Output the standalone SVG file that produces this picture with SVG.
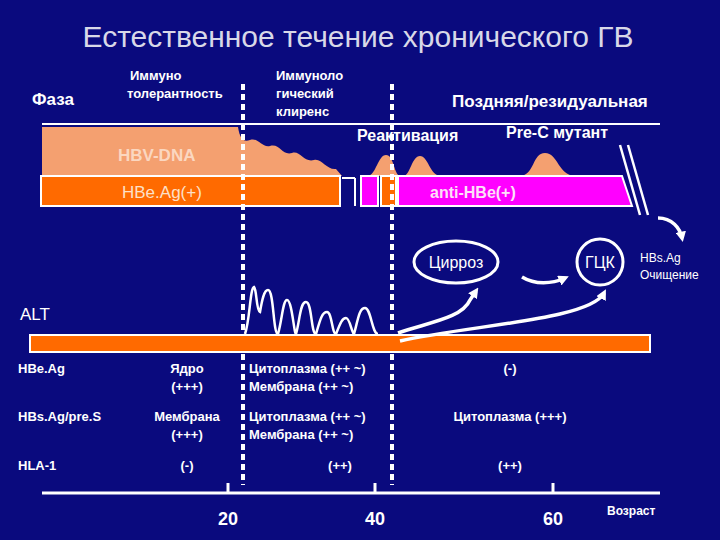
<svg xmlns="http://www.w3.org/2000/svg" width="720" height="540" viewBox="0 0 720 540">
<defs>
<style>
text{font-family:"Liberation Sans",Arial,sans-serif;fill:#fff;font-weight:bold}
.s{font-size:13px}
.m{font-size:16px}
.dash{stroke:#fff;stroke-width:4;stroke-dasharray:6,4}
.arr{fill:none;stroke:#fff;stroke-width:3.5;marker-end:url(#ah)}
</style>
<marker id="ah" viewBox="0 0 10 10" refX="6" refY="5" markerWidth="3" markerHeight="3" orient="auto"><path d="M0,0L10,5L0,10z" fill="#fff"/></marker>
</defs>
<rect width="720" height="540" fill="#0a0a7e"/>
<text x="358" y="47" text-anchor="middle" style="font-size:30px;font-weight:normal;fill:#d8d8e8">Естественное течение хронического ГВ</text>
<g id="phases">
<text x="32" y="105" style="font-size:17px">Фаза</text>
<text x="130" y="80" class="s">Иммуно</text>
<text x="127" y="98" class="s">толерантность</text>
<text x="276" y="80" class="s">Иммуноло</text>
<text x="276" y="98" class="s">гический</text>
<text x="276" y="116" class="s">клиренс</text>
<text x="452" y="107" style="font-size:17px">Поздняя/резидуальная</text>
</g>
<line x1="42" y1="124" x2="660" y2="124" stroke="#fff" stroke-width="2"/>
<g id="hbvdna">
<path d="M42,127 H238 C240,140 244,142 250,140 C258,137 262,148 270,146 C280,143 282,156 292,153 C300,150 304,163 314,160 C322,158 326,170 336,169 L342,176 H42 Z" fill="#f4a070"/>
<path d="M368,176 C376,175 378,155 386,155 C394,155 394,175 400,176 Z" fill="#f4a070"/>
<path d="M404,176 C410,175 412,156 420,156 C428,156 430,175 440,176 Z" fill="#f4a070"/>
<path d="M520,176 C535,175 532,153 545,153 C558,153 558,175 575,176 Z" fill="#f4a070"/>
<text x="118" y="161" style="font-size:17px;fill:#fbd7c0">HBV-DNA</text>
<text x="357" y="141" class="m">Реактивация</text>
<text x="506" y="138" class="m">Pre-C мутант</text>
</g>
<g id="hbeag-bar" stroke="#fff" stroke-width="2">
<rect x="41" y="176" width="299" height="30" fill="#ff6a00"/>
<rect x="361" y="176" width="17" height="30" fill="#ff00ff"/>
<rect x="381" y="176" width="15" height="30" fill="#ff6a00"/>
<path d="M398,176 H622 L632,206 H398 Z" fill="#ff00ff"/>
<line x1="342" y1="178" x2="355" y2="178"/>
<line x1="355" y1="178" x2="355" y2="206"/>
<line x1="620" y1="145" x2="640" y2="215" stroke-width="2.5"/>
<line x1="628" y1="145" x2="648" y2="215" stroke-width="2.5"/>
</g>
<text x="122" y="198" style="font-size:17px;font-weight:normal;fill:#fde0c8">HBe.Ag(+)</text>
<text x="430" y="198" class="m" style="fill:#fde0f8">anti-HBe(+)</text>
<g id="vlines">
<line x1="243" y1="84" x2="243" y2="485" class="dash"/>
<line x1="392" y1="84" x2="392" y2="485" class="dash"/>
</g>
<g id="cirrhosis">
<ellipse cx="456" cy="262" rx="42" ry="21" fill="none" stroke="#fff" stroke-width="3"/>
<text x="456" y="268" text-anchor="middle" class="m" style="font-weight:normal">Цирроз</text>
</g>
<g id="hcc">
<circle cx="600" cy="262" r="23" fill="none" stroke="#fff" stroke-width="3"/>
<text x="600" y="268" text-anchor="middle" class="m" style="font-weight:normal">ГЦК</text>
</g>
<text x="640" y="262" style="font-size:12px;font-weight:normal">HBs.Ag</text>
<text x="640" y="279" style="font-size:12px;font-weight:normal">Очищение</text>
<text x="20" y="320" style="font-size:17px;font-weight:normal">ALT</text>
<g id="alt-bar">
<rect x="30" y="335" width="620" height="17" fill="#ff6a00" stroke="#fff" stroke-width="2"/>
<path d="M245,334 C250,320 250,288 254,287 C257,290 256,310 260,312 C262,300 264,290 268,290 C274,290 273,334 278,334 C282,320 283,300 287,300 C292,300 294,334 296,334 C300,320 300,302 306,302 C312,302 311,334 316,334 C320,320 322,312 327,312 C332,312 332,334 336,334 C340,324 342,318 346,318 C350,318 352,334 354,334 C358,320 359,308 365,308 C371,308 372,334 378,334" fill="none" stroke="#fff" stroke-width="2.5"/>
</g>
<g id="connectors">
<path d="M398,333 C430,322 462,318 470,300 L476,291" class="arr"/>
<path d="M400,341 C470,325 590,320 604,293" class="arr"/>
<path d="M522,277 C535,285 552,284 565,278" class="arr"/>
<path d="M658,218 C672,218 680,228 682,238" class="arr"/>
</g>
<g id="table">
<text x="18" y="373" class="s">HBe.Ag</text>
<text x="187" y="373" text-anchor="middle" class="s">Ядро</text>
<text x="187" y="391" text-anchor="middle" class="s">(+++)</text>
<text x="249" y="373" class="s">Цитоплазма (++ ~)</text>
<text x="249" y="391" class="s">Мембрана (++ ~)</text>
<text x="510" y="373" text-anchor="middle" class="s">(-)</text>
<text x="18" y="421" class="s">HBs.Ag/pre.S</text>
<text x="187" y="421" text-anchor="middle" class="s">Мембрана</text>
<text x="187" y="439" text-anchor="middle" class="s">(+++)</text>
<text x="249" y="421" class="s">Цитоплазма (++ ~)</text>
<text x="249" y="439" class="s">Мембрана (++ ~)</text>
<text x="510" y="421" text-anchor="middle" class="s">Цитоплазма  (+++)</text>
<text x="18" y="470" class="s">HLA-1</text>
<text x="187" y="470" text-anchor="middle" class="s">(-)</text>
<text x="340" y="470" text-anchor="middle" class="s">(++)</text>
<text x="510" y="470" text-anchor="middle" class="s">(++)</text>
</g>
<g id="axis" stroke="#fff">
<line x1="42" y1="493" x2="660" y2="493" stroke-width="3"/>
<line x1="228" y1="483" x2="228" y2="493" stroke-width="3"/>
<line x1="375" y1="483" x2="375" y2="493" stroke-width="3"/>
<line x1="553" y1="483" x2="553" y2="493" stroke-width="3"/>
</g>
<text x="228" y="525" text-anchor="middle" style="font-size:18px">20</text>
<text x="375" y="525" text-anchor="middle" style="font-size:18px">40</text>
<text x="553" y="525" text-anchor="middle" style="font-size:18px">60</text>
<text x="607" y="515" style="font-size:12px">Возраст</text>
</svg>
